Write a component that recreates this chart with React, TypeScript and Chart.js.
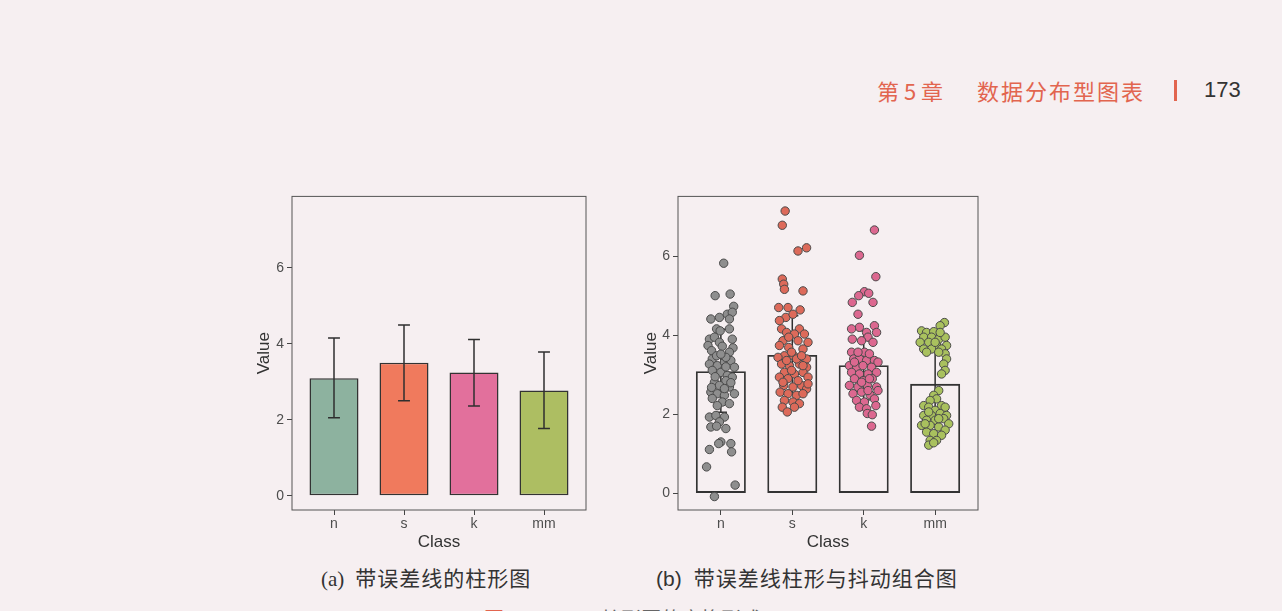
import React, { useEffect, useRef } from "react";
import { Chart, registerables } from "chart.js";

Chart.register(...registerables);

const CLASSES = ["n", "s", "k", "mm"];
const MEANS = [3.09, 3.5, 3.24, 2.77];
const ERR_LOW = [2.05, 2.5, 2.36, 1.77];
const ERR_HIGH = [4.15, 4.49, 4.11, 3.78];
const Y_TICKS = [0, 2, 4, 6];
const BAR_COLORS = ["#8DB29F", "#F07A5D", "#E2709C", "#ADBE62"];
const POINT_COLORS = ["#8E8E8E", "#DD6A5A", "#DC6890", "#A9C15E"];

const N_Y = [5.82, 5.0, 5.04, 4.73, 4.41, 4.45, 4.53, 4.58, 4.41, 4.16, 4.11, 4.16, 3.9, 3.95, 3.9, 3.74, 3.61, 3.82, 3.68, 3.57, 3.4, 3.48, 3.27, 3.23, 3.32, 3.36, 3.19, 3.11, 3.06, 2.98, 2.94, 2.81, 2.85, 2.73, 2.69, 2.56, 2.52, 2.48, 2.52, 2.31, 2.27, 2.22, 1.93, 1.97, 1.93, 1.81, 1.68, 1.7, 1.64, 1.3, 1.26, 1.26, 1.05, 1.11, 0.67, 0.21, -0.08, 3.72, 3.44, 2.95, 2.65, 2.8, 2.4, 3.2, 3.52, 2.68];
const N_DX = [0.04, -0.08, 0.13, 0.18, -0.14, -0.02, 0.09, 0.16, 0.12, -0.06, -0.01, 0.12, -0.16, -0.09, 0.16, -0.18, -0.13, -0.02, 0.17, 0.12, -0.12, -0.06, -0.16, -0.05, 0.05, 0.14, 0.19, -0.12, 0.0, 0.09, 0.16, -0.09, 0.07, -0.02, 0.12, -0.14, -0.05, 0.05, 0.19, 0.02, 0.12, -0.05, -0.16, -0.07, 0.05, -0.02, -0.14, -0.06, 0.07, 0.0, -0.03, 0.14, 0.15, -0.16, -0.2, 0.2, -0.09, 0.02, 0.07, -0.08, 0.05, 0.14, -0.12, 0.07, 0.0, -0.13];

const S_Y = [7.14, 6.78, 6.21, 6.13, 5.42, 5.29, 5.16, 5.12, 4.64, 4.7, 4.7, 4.45, 4.53, 4.37, 4.16, 4.16, 4.07, 4.03, 4.03, 3.86, 3.86, 3.82, 3.74, 3.69, 3.65, 3.48, 3.48, 3.44, 3.4, 3.27, 3.23, 3.27, 3.19, 3.06, 3.02, 3.06, 2.94, 2.9, 2.94, 2.73, 2.69, 2.73, 2.64, 2.56, 2.52, 2.48, 2.52, 2.35, 2.31, 2.27, 2.18, 2.18, 2.06, 2.77, 3.57, 3.4, 3.36, 2.85, 3.11, 3.48, 2.81, 3.23, 3.95];
const S_DX = [-0.1, -0.14, 0.2, 0.08, -0.14, -0.12, -0.11, 0.15, 0.11, -0.19, -0.06, -0.09, 0.01, -0.18, -0.15, 0.1, -0.08, 0.03, 0.17, -0.13, 0.08, 0.22, -0.18, -0.05, 0.15, -0.11, 0.02, -0.2, 0.2, -0.15, -0.04, 0.1, 0.2, -0.11, 0.03, 0.15, -0.18, -0.06, 0.22, -0.12, 0.01, 0.13, 0.2, -0.17, -0.06, 0.06, 0.15, -0.11, 0.01, 0.1, -0.14, 0.03, -0.07, 0.22, -0.01, 0.06, -0.08, 0.08, -0.01, 0.13, -0.13, 0.15, -0.05];

const K_Y = [6.66, 6.02, 5.48, 5.1, 5.06, 5.0, 4.83, 4.83, 4.53, 4.2, 4.24, 4.16, 4.07, 4.07, 3.95, 3.9, 3.86, 3.82, 3.57, 3.4, 3.4, 3.36, 3.36, 3.32, 3.23, 3.19, 3.23, 3.19, 3.06, 3.02, 3.02, 3.06, 2.9, 2.85, 2.9, 2.73, 2.69, 2.73, 2.69, 2.52, 2.56, 2.49, 2.6, 2.35, 2.31, 2.39, 2.18, 2.14, 2.22, 2.02, 1.99, 1.7, 3.57, 3.57, 3.53, 2.81, 2.6, 3.32, 2.9];
const K_DX = [0.15, -0.06, 0.17, 0.01, 0.07, -0.07, -0.16, 0.13, -0.08, -0.06, 0.15, -0.17, 0.04, 0.18, 0.06, -0.16, -0.03, 0.13, -0.17, -0.14, -0.06, 0.04, 0.15, 0.2, -0.2, -0.1, -0.01, 0.11, -0.17, -0.06, 0.06, 0.18, -0.13, -0.01, 0.12, -0.2, -0.08, 0.05, 0.18, -0.15, -0.03, 0.09, 0.2, -0.1, 0.01, 0.15, -0.06, 0.04, 0.17, 0.05, 0.12, 0.11, 0.01, -0.08, 0.08, -0.03, 0.06, -0.13, 0.08];

const MM_Y = [4.32, 4.24, 4.11, 4.07, 4.09, 3.95, 3.95, 3.9, 3.95, 3.82, 3.82, 3.74, 3.74, 3.65, 3.65, 3.65, 3.53, 3.4, 3.27, 3.11, 3.02, 2.6, 2.48, 2.39, 2.35, 2.22, 2.22, 2.18, 2.18, 2.1, 1.97, 1.97, 2.02, 1.97, 1.85, 1.85, 1.89, 1.72, 1.72, 1.76, 1.68, 1.6, 1.55, 1.51, 1.47, 1.34, 1.34, 1.22, 1.28, 3.57, 3.57, 3.82, 4.07, 2.06, 1.89, 1.76];
const MM_DX = [0.13, 0.07, -0.19, -0.12, -0.02, -0.16, -0.05, 0.05, 0.14, -0.09, -0.21, 0.02, 0.16, 0.09, -0.05, -0.16, 0.14, 0.16, 0.12, 0.14, 0.09, 0.05, -0.02, 0.02, -0.07, 0.09, -0.16, -0.09, 0.14, 0.0, -0.16, -0.05, 0.07, 0.16, -0.12, 0.0, 0.12, -0.19, -0.07, 0.19, 0.05, 0.14, -0.12, -0.02, 0.09, -0.07, 0.02, -0.09, -0.02, -0.12, 0.05, 0.0, 0.07, -0.09, 0.05, -0.14];

const JITTER_Y = [N_Y, S_Y, K_Y, MM_Y];
const JITTER_DX = [N_DX, S_DX, K_DX, MM_DX];

const CAP_HALF = 0.085;
const FONT = "'Liberation Sans', Arial, sans-serif";
const CJK = "'Noto Sans CJK SC', 'Liberation Sans', sans-serif";
const PAGE_BG = "#F6EFF1";

const errorBarPlugin = {
  id: "errbars",
  afterDatasetDraw(chart: any, args: any) {
    if (args.index !== 0) return;
    const { ctx } = chart;
    const x = chart.scales.x;
    const y = chart.scales.y;
    ctx.save();
    ctx.strokeStyle = "#2f2f2f";
    ctx.lineWidth = 1.5;
    MEANS.forEach((_, i) => {
      const cx = x.getPixelForValue(i + 1);
      const hw = x.getPixelForValue(i + 1 + CAP_HALF) - cx;
      const top = y.getPixelForValue(ERR_HIGH[i]);
      const bot = y.getPixelForValue(ERR_LOW[i]);
      ctx.beginPath();
      ctx.moveTo(cx - hw, top);
      ctx.lineTo(cx + hw, top);
      ctx.moveTo(cx, top);
      ctx.lineTo(cx, bot);
      ctx.moveTo(cx - hw, bot);
      ctx.lineTo(cx + hw, bot);
      ctx.stroke();
    });
    ctx.restore();
  },
};

const panelBorderPlugin = {
  id: "panelBorder",
  afterDraw(chart: any) {
    const { ctx, chartArea: a } = chart;
    ctx.save();
    ctx.strokeStyle = "#555";
    ctx.lineWidth = 1;
    ctx.strokeRect(a.left, a.top, a.right - a.left, a.bottom - a.top);
    ctx.restore();
  },
};

function makeOptions(yMin: number, yMax: number, pad: any, yAxisW: number, xAxisH: number) {
  return {
    animation: false,
    responsive: true,
    maintainAspectRatio: false,
    events: [],
    layout: { padding: pad },
    plugins: { legend: { display: false }, tooltip: { enabled: false } },
    scales: {
      x: {
        type: "linear",
        min: 0.4,
        max: 4.6,
        offset: false,
        afterBuildTicks: (axis: any) => {
          axis.ticks = CLASSES.map((_, i) => ({ value: i + 1 }));
        },
        afterFit: (axis: any) => {
          axis.height = xAxisH;
        },
        ticks: {
          callback: (v: any) => CLASSES[Math.round(v) - 1] ?? "",
          color: "#4d4d4d",
          font: { family: FONT, size: 14 },
          padding: 1,
          maxRotation: 0,
        },
        grid: { offset: false, drawOnChartArea: false, drawTicks: true, tickLength: 5, color: "#444" },
        border: { display: false },
        title: { display: true, text: "Class", color: "#333", font: { family: FONT, size: 17 }, padding: { top: 2, bottom: 3 } },
      },
      y: {
        type: "linear",
        min: yMin,
        max: yMax,
        afterBuildTicks: (axis: any) => {
          axis.ticks = Y_TICKS.map((v) => ({ value: v }));
        },
        afterFit: (axis: any) => {
          axis.width = yAxisW;
        },
        ticks: { color: "#4d4d4d", font: { family: FONT, size: 14 }, padding: 3 },
        grid: { drawOnChartArea: false, drawTicks: true, tickLength: 5, color: "#444" },
        border: { display: false },
        title: { display: true, text: "Value", color: "#333", font: { family: FONT, size: 17 }, padding: { top: 3, bottom: 2 } },
      },
    },
  };
}

function barDataset(filled: boolean) {
  return {
    type: "bar",
    data: MEANS.map((v, i) => ({ x: i + 1, y: v })),
    backgroundColor: filled ? BAR_COLORS : "rgba(0,0,0,0)",
    borderColor: "#333",
    borderWidth: filled ? 1.5 : 1.8,
    borderSkipped: false,
    barPercentage: 0.7,
    categoryPercentage: 1.0,
    order: 10,
  };
}

function ChartA() {
  const ref = useRef<HTMLCanvasElement>(null);
  useEffect(() => {
    const chart = new Chart(ref.current as HTMLCanvasElement, {
      type: "bar",
      data: { datasets: [barDataset(true) as any] },
      options: makeOptions(-0.375, 7.875, { left: 11, top: 11, right: 14, bottom: 0 }, 41, 46) as any,
      plugins: [errorBarPlugin, panelBorderPlugin],
    });
    return () => chart.destroy();
  }, []);
  return <canvas ref={ref} />;
}

function ChartB() {
  const ref = useRef<HTMLCanvasElement>(null);
  useEffect(() => {
    const scatter = JITTER_Y.map((ys, c) => ({
      type: "scatter",
      data: ys.map((v, j) => ({ x: c + 1 + JITTER_DX[c][j], y: v })),
      backgroundColor: POINT_COLORS[c],
      borderColor: "#4a4a4a",
      borderWidth: 1,
      pointRadius: 4.2,
      order: 1,
    }));
    const chart = new Chart(ref.current as HTMLCanvasElement, {
      type: "bar",
      data: { datasets: [barDataset(false) as any, ...(scatter as any)] },
      options: makeOptions(-0.42, 7.51, { left: 8, top: 10, right: 12, bottom: 0 }, 40, 46) as any,
      plugins: [errorBarPlugin, panelBorderPlugin],
    });
    return () => chart.destroy();
  }, []);
  return <canvas ref={ref} />;
}

export default function App() {
  const abs = (l: number, t: number, extra: any = {}) => ({ position: "absolute" as const, left: l, top: t, ...extra });
  return (
    <div style={{ position: "absolute", left: 0, top: 0, width: 1282, height: 611, overflow: "hidden", background: PAGE_BG }}>
      <div style={abs(877, 76, { fontFamily: CJK, fontSize: 22, color: "#E2654F", whiteSpace: "nowrap", lineHeight: "28px" })}>第 5 章</div>
      <div style={abs(977, 76, { fontFamily: CJK, fontSize: 22, color: "#E2654F", whiteSpace: "nowrap", letterSpacing: 2, lineHeight: "28px" })}>数据分布型图表</div>
      <div style={abs(1174, 80, { width: 3, height: 21, background: "#E2654F" })} />
      <div style={abs(1204, 76, { fontFamily: FONT, fontSize: 22, color: "#333", whiteSpace: "nowrap", lineHeight: "28px" })}>173</div>

      <div style={abs(240, 185, { width: 360, height: 371 })}>
        <ChartA />
      </div>
      <div style={abs(630, 185, { width: 360, height: 371 })}>
        <ChartB />
      </div>

      <div style={abs(321, 564, { fontSize: 21, color: "#333", whiteSpace: "nowrap", lineHeight: "26px" })}>
        <span style={{ fontFamily: "'Liberation Serif', serif" }}>(a)</span>
        <span style={{ fontFamily: CJK, marginLeft: 11, letterSpacing: 1 }}>带误差线的柱形图</span>
      </div>
      <div style={abs(656, 564, { fontSize: 21, color: "#333", whiteSpace: "nowrap", lineHeight: "26px" })}>
        <span style={{ fontFamily: FONT }}>(b)</span>
        <span style={{ fontFamily: CJK, marginLeft: 12, letterSpacing: 1 }}>带误差线柱形与抖动组合图</span>
      </div>

      <div style={abs(484, 606, { fontFamily: CJK, fontSize: 20, whiteSpace: "nowrap", lineHeight: "26px" })}>
        <span style={{ color: "#E2654F" }}>图</span>
        <span style={{ color: "#666", marginLeft: 30 }}>5-2-1　柱形图的变换形式</span>
      </div>
    </div>
  );
}
